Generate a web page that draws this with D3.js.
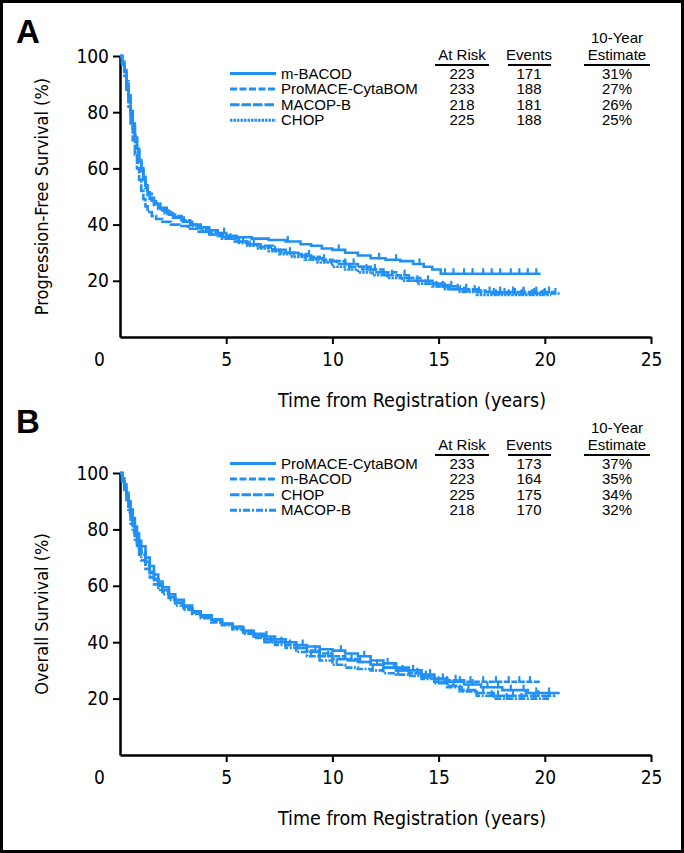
<!DOCTYPE html>
<html><head><meta charset="utf-8">
<script src="https://cdn.jsdelivr.net/npm/d3@7"></script>
<style>
html,body{margin:0;padding:0;background:#fff;}
svg text{fill:#000;}
.cond{font-family:"Liberation Sans Narrow","DejaVu Sans Condensed","Roboto Condensed",sans-serif;}
.leg{font-family:"Liberation Sans",Arial,sans-serif;font-size:15px;}
</style></head>
<body>
<svg id="chart" width="684" height="853"></svg>
<script>
// ---------------- DATA ----------------
const xTicks = [0, 5, 10, 15, 20, 25];
const yTicks = [20, 40, 60, 80, 100];
const xTitle = "Time from Registration (years)";
const yTitleA = "Progression-Free Survival (%)";
const yTitleB = "Overall Survival (%)";
const legendHeaders = ["At Risk", "Events", "10-Year", "Estimate"];

// Panel A (progression-free survival)
const namesA = ["m-BACOD", "ProMACE-CytaBOM", "MACOP-B", "CHOP"];
const atRiskA = [223, 233, 218, 225];
const eventsA = [171, 188, 181, 188];
const estA = ["31%", "27%", "26%", "25%"];
const dashA = ["solid", "dash", "longdash", "dot"];

const pfs_mBACOD = [[0,100],[0.1,98],[0.2,95],[0.3,90],[0.4,85],[0.5,80],[0.6,75.5],[0.7,71],[0.8,67],[0.9,63],[1.0,60],[1.1,57],[1.2,54],[1.3,51.5],[1.4,49.5],[1.6,47.5],[1.8,46],[2.0,45],[2.3,43.5],[2.6,42.5],[3.0,41],[3.4,40],[3.8,39],[4.2,38],[4.6,37],[5.0,36],[5.5,35.5],[6.2,35],[7.0,34.5],[7.8,34],[8.5,33],[9.0,32.5],[9.5,31.5],[10.0,31],[10.6,30],[11.2,29],[11.8,28],[12.5,27.5],[13.2,27],[13.8,26],[14.3,25],[14.7,24],[15.1,22.5],[19.8,22.5]];
const pfs_ProMACE = [[0,100],[0.1,97],[0.2,94],[0.3,89],[0.4,84],[0.5,79],[0.6,74],[0.7,70],[0.8,66],[0.9,62],[1.0,59],[1.1,56],[1.2,53],[1.3,51],[1.5,49],[1.7,47.5],[1.9,46],[2.2,44.5],[2.5,43],[2.9,41.5],[3.3,40],[3.7,39],[4.1,37.5],[4.6,36],[5.1,35],[5.6,34],[6.1,33],[6.6,32],[7.1,31],[7.6,30],[8.2,29.5],[8.8,28.5],[9.4,27.5],[10.0,27],[10.6,26],[11.2,25],[11.8,24],[12.4,23],[13.0,22],[13.6,21],[14.2,20],[14.8,19],[15.4,18],[16.0,17],[16.8,16],[17.5,15.5],[20.7,15.5]];
const pfs_MACOPB = [[0,100],[0.1,97],[0.2,93],[0.3,88],[0.4,82],[0.5,76],[0.6,70],[0.7,65],[0.8,60],[0.9,56],[1.0,52],[1.1,49],[1.2,46.5],[1.3,44.5],[1.5,43],[1.7,42],[2.0,41],[2.4,40],[2.8,39.5],[3.2,38.5],[3.7,37.5],[4.2,36.5],[4.8,35],[5.4,34],[6.0,33],[6.6,32.5],[7.2,31],[7.8,30],[8.4,29],[9.0,28],[9.6,27],[10.2,26],[10.8,25],[11.4,24],[12.0,23],[12.6,22],[13.2,21],[13.8,20],[14.4,19],[15.0,18],[15.6,17],[16.4,16.5],[17.2,16],[20.5,16]];
const pfs_CHOP = [[0,100],[0.1,98],[0.2,95],[0.3,91],[0.4,86],[0.5,81],[0.6,76],[0.7,71.5],[0.8,67],[0.9,63],[1.0,59.5],[1.1,56],[1.2,53],[1.3,50.5],[1.4,48.5],[1.6,47],[1.8,45.5],[2.1,44],[2.5,42.5],[2.9,41],[3.3,39.5],[3.8,38],[4.3,36.5],[4.9,35],[5.5,33.5],[6.0,32.5],[6.5,31.5],[7.0,30.5],[7.5,29.5],[8.1,28.5],[8.7,27.5],[9.3,26.5],[10.0,25],[10.6,24],[11.2,23],[11.9,22],[12.6,21],[13.3,20],[14.0,19],[14.7,18],[15.3,17],[16.0,16],[16.8,15],[20.3,15]];

const cens_pfs_mBACOD = [4.9,7.9,10.3,12.2,13.0,14.1,15.3,15.7,16.2,16.6,17.1,17.5,17.9,18.4,18.8,19.2,19.6];
const cens_pfs_ProMACE = [5.8,8.0,9.6,11.0,12.0,13.4,14.5,15.6,16.3,16.9,17.6,18.1,18.6,19.0,19.5,20.0,20.5];
const cens_pfs_MACOPB = [6.3,8.9,10.6,11.6,12.8,14.0,15.2,15.9,16.7,17.4,17.9,18.5,19.0,19.6,20.2];
const cens_pfs_CHOP = [5.2,7.3,9.0,10.8,12.4,13.6,14.9,15.5,16.2,17.0,17.7,18.3,18.9,19.4,19.9];

// Panel B (overall survival)
const namesB = ["ProMACE-CytaBOM", "m-BACOD", "CHOP", "MACOP-B"];
const atRiskB = [233, 223, 225, 218];
const eventsB = [173, 164, 175, 170];
const estB = ["37%", "35%", "34%", "32%"];
const dashB = ["solid", "dash", "longdash", "dashdot"];

const os_ProMACE = [[0,100],[0.1,98],[0.2,96],[0.3,93],[0.4,90],[0.5,87],[0.6,84],[0.7,81],[0.8,78.5],[0.9,76],[1.0,74],[1.2,70],[1.4,67],[1.6,64],[1.8,61.5],[2.0,59.5],[2.3,57],[2.6,55],[3.0,53],[3.4,51],[3.8,49.5],[4.3,48],[4.8,46.5],[5.3,45.5],[5.8,44],[6.3,43],[6.8,42],[7.3,41],[7.8,40],[8.3,39],[8.8,38.5],[9.4,37.5],[10.0,37],[10.6,36],[11.2,35],[11.8,33.5],[12.4,32.5],[13.0,31],[13.6,30],[14.2,28.5],[14.8,27],[15.4,26],[16.2,25],[17.0,24],[18.0,23],[19.2,22],[20.7,22]];
const os_mBACOD = [[0,100],[0.1,97],[0.2,94],[0.3,91],[0.4,87],[0.5,84],[0.6,81],[0.7,78],[0.8,75.5],[0.9,73],[1.0,71],[1.2,67.5],[1.4,64.5],[1.6,62],[1.8,60],[2.0,58],[2.3,56],[2.6,54],[3.0,52],[3.4,50.5],[3.8,49],[4.3,47.5],[4.8,46.5],[5.3,45.5],[5.8,44],[6.3,42.5],[6.8,41],[7.3,40],[7.8,39],[8.3,38],[8.8,37],[9.4,36],[10.0,35],[10.6,34],[11.2,33],[11.8,32],[12.4,31],[13.0,30],[13.6,29],[14.2,28],[14.8,27],[15.4,26.5],[16.2,26],[19.8,26]];
const os_CHOP = [[0,100],[0.1,98],[0.2,95],[0.3,92],[0.4,89],[0.5,85],[0.6,82],[0.7,79],[0.8,76],[0.9,74],[1.0,72],[1.2,68.5],[1.4,65],[1.6,62.5],[1.8,60.5],[2.0,58.5],[2.3,56],[2.6,54],[3.0,52.5],[3.4,51],[3.8,49.5],[4.3,48],[4.8,46.5],[5.3,45],[5.8,43.5],[6.3,42],[6.8,41],[7.3,40],[7.8,39],[8.3,38],[8.8,36.5],[9.4,35],[10.0,34],[10.6,33.5],[11.2,33],[11.8,32],[12.4,31],[13.0,30],[13.6,29],[14.2,27.5],[14.8,26],[15.4,24.5],[16.0,23],[16.8,22],[17.6,21],[20.5,21]];
const os_MACOPB = [[0,100],[0.1,97],[0.2,94],[0.3,90],[0.4,86],[0.5,82],[0.6,79],[0.7,76],[0.8,73.5],[0.9,71],[1.0,69],[1.2,66],[1.4,63],[1.6,60.5],[1.8,58.5],[2.0,57],[2.3,55],[2.6,53],[3.0,51.5],[3.4,50],[3.8,48.5],[4.3,47],[4.8,46],[5.3,44.5],[5.8,43],[6.3,41.5],[6.8,40],[7.3,39],[7.8,38],[8.3,36.5],[8.8,35],[9.4,33.5],[10.0,32],[10.6,31],[11.2,30.5],[11.8,30],[12.4,29],[13.0,28.5],[13.6,28],[14.2,27],[14.8,25.5],[15.4,24],[16.0,22.5],[16.8,21],[17.6,20],[20.2,20]];

const cens_os_ProMACE = [6.9,8.6,10.4,11.5,12.6,13.8,14.6,15.4,16.0,16.6,17.3,17.8,18.4,19.0,19.6,20.2];
const cens_os_mBACOD = [7.6,9.2,10.9,12.1,13.3,14.4,15.2,15.8,16.5,17.1,17.7,18.3,18.8,19.3];
const cens_os_CHOP = [8.0,9.8,11.3,12.9,14.0,15.0,15.7,16.4,17.1,17.8,18.5,19.1,19.7,20.2];
const cens_os_MACOPB = [7.1,9.0,10.2,11.9,13.1,14.3,15.3,16.1,16.8,17.5,18.2,18.9,19.5];

const seriesA = [pfs_mBACOD, pfs_ProMACE, pfs_MACOPB, pfs_CHOP];
const censA = [cens_pfs_mBACOD, cens_pfs_ProMACE, cens_pfs_MACOPB, cens_pfs_CHOP];
const seriesB = [os_ProMACE, os_mBACOD, os_CHOP, os_MACOPB];
const censB = [cens_os_ProMACE, cens_os_mBACOD, cens_os_CHOP, cens_os_MACOPB];

// ---------------- DRAW ----------------
const color = "#2190f5";
const svg = d3.select("#chart");
svg.append("rect").attr("x",1.5).attr("y",1.5).attr("width",681).attr("height",850)
  .attr("fill","#fff").attr("stroke","#000").attr("stroke-width",3);

const x = d3.scaleLinear().domain([0,25]).range([120,651]);
const curveDash = {solid:null, dash:"6,1.5", longdash:"10,1.5", dot:"2.5,1", dashdot:"7,1.5,2,1.5"};
const legDash = {solid:null, dash:"7,2.5", longdash:"9.5,2", dot:"2.5,1", dashdot:"7,2,2,2"};

function panel(cfg){
  const y = d3.scaleLinear().domain([0,100]).range([cfg.y0, cfg.y100]);
  const g = svg.append("g");
  g.append("text").attr("x",16).attr("y",cfg.letterY).attr("font-family","Liberation Sans, Arial, sans-serif")
    .attr("font-weight","bold").attr("font-size",33).text(cfg.letter);
  const ya = g.append("g").attr("transform","translate(120,0)")
    .call(d3.axisLeft(y).tickValues(yTicks).tickSize(7).tickSizeOuter(0).tickPadding(4));
  ya.select(".domain").attr("stroke","#000").attr("stroke-width",2.5);
  ya.selectAll(".tick line").attr("stroke","#000").attr("stroke-width",2);
  ya.selectAll(".tick text").attr("class","cond").attr("font-size",19).attr("fill","#000");
  const xa = g.append("g").attr("transform",`translate(0,${cfg.y0})`)
    .call(d3.axisBottom(x).tickValues(xTicks).tickSize(7).tickSizeOuter(0).tickPadding(9));
  xa.select(".domain").attr("stroke","#000").attr("stroke-width",2.5);
  xa.selectAll(".tick line").attr("stroke","#000").attr("stroke-width",2)
    .attr("display", d => d===0 ? "none" : null);
  xa.selectAll(".tick text").attr("class","cond").attr("font-size",19).attr("fill","#000")
    .attr("dx", d => d===0 ? -21 : 0);
  g.append("text").attr("class","cond").attr("font-size",19.5).attr("text-anchor","middle")
    .attr("x",412).attr("y",cfg.y0+70).text(xTitle);
  g.append("text").attr("class","cond").attr("font-size",18).attr("text-anchor","middle")
    .attr("transform",`translate(48,${(cfg.y0+cfg.y100)/2}) rotate(-90)`).text(cfg.yTitle);

  const line = d3.line().x(d=>x(d[0])).y(d=>y(d[1])).curve(d3.curveStepAfter);
  cfg.series.forEach((s,i)=>{
    g.append("path").datum(s).attr("d",line).attr("fill","none").attr("stroke",color)
      .attr("stroke-width",2.6).attr("stroke-dasharray",curveDash[cfg.dash[i]]);
    const bis = d3.bisector(d=>d[0]).right;
    g.selectAll(null).data(cfg.cens[i]).join("line")
      .attr("x1",t=>x(t)).attr("x2",t=>x(t))
      .attr("y1",t=>y(s[Math.max(0,bis(s,t)-1)][1])-5.5)
      .attr("y2",t=>y(s[Math.max(0,bis(s,t)-1)][1])+1)
      .attr("stroke",color).attr("stroke-width",2.2);
  });

  const L = g.append("g").attr("class","leg");
  const colX = [462, 529, 617];
  const hy = cfg.legTop;
  L.append("text").attr("x",colX[0]).attr("y",hy).attr("text-anchor","middle").text(legendHeaders[0]);
  L.append("text").attr("x",colX[1]).attr("y",hy).attr("text-anchor","middle").text(legendHeaders[1]);
  L.append("text").attr("x",colX[2]).attr("y",hy-17).attr("text-anchor","middle").text(legendHeaders[2]);
  L.append("text").attr("x",colX[2]).attr("y",hy).attr("text-anchor","middle").text(legendHeaders[3]);
  [[435,489],[508,551],[584,650]].forEach(([a,b])=>{
    L.append("line").attr("x1",a).attr("x2",b).attr("y1",hy+5).attr("y2",hy+5)
      .attr("stroke","#000").attr("stroke-width",2);
  });
  cfg.names.forEach((n,i)=>{
    const ry = hy + 18.5 + i*15.6;
    L.append("line").attr("x1",230).attr("x2",276).attr("y1",ry-5).attr("y2",ry-5)
      .attr("stroke",color).attr("stroke-width",3).attr("stroke-dasharray",legDash[cfg.dash[i]]);
    L.append("text").attr("x",281).attr("y",ry).text(n);
    L.append("text").attr("x",colX[0]).attr("y",ry).attr("text-anchor","middle").text(cfg.atRisk[i]);
    L.append("text").attr("x",colX[1]).attr("y",ry).attr("text-anchor","middle").text(cfg.events[i]);
    L.append("text").attr("x",colX[2]).attr("y",ry).attr("text-anchor","middle").text(cfg.est[i]);
  });
}

panel({letter:"A", letterY:43, y0:337, y100:56, yTitle:yTitleA, series:seriesA, cens:censA,
  dash:dashA, names:namesA, atRisk:atRiskA, events:eventsA, est:estA, legTop:60});
panel({letter:"B", letterY:433, y0:755, y100:473, yTitle:yTitleB, series:seriesB, cens:censB,
  dash:dashB, names:namesB, atRisk:atRiskB, events:eventsB, est:estB, legTop:450});
</script>
</body></html>
